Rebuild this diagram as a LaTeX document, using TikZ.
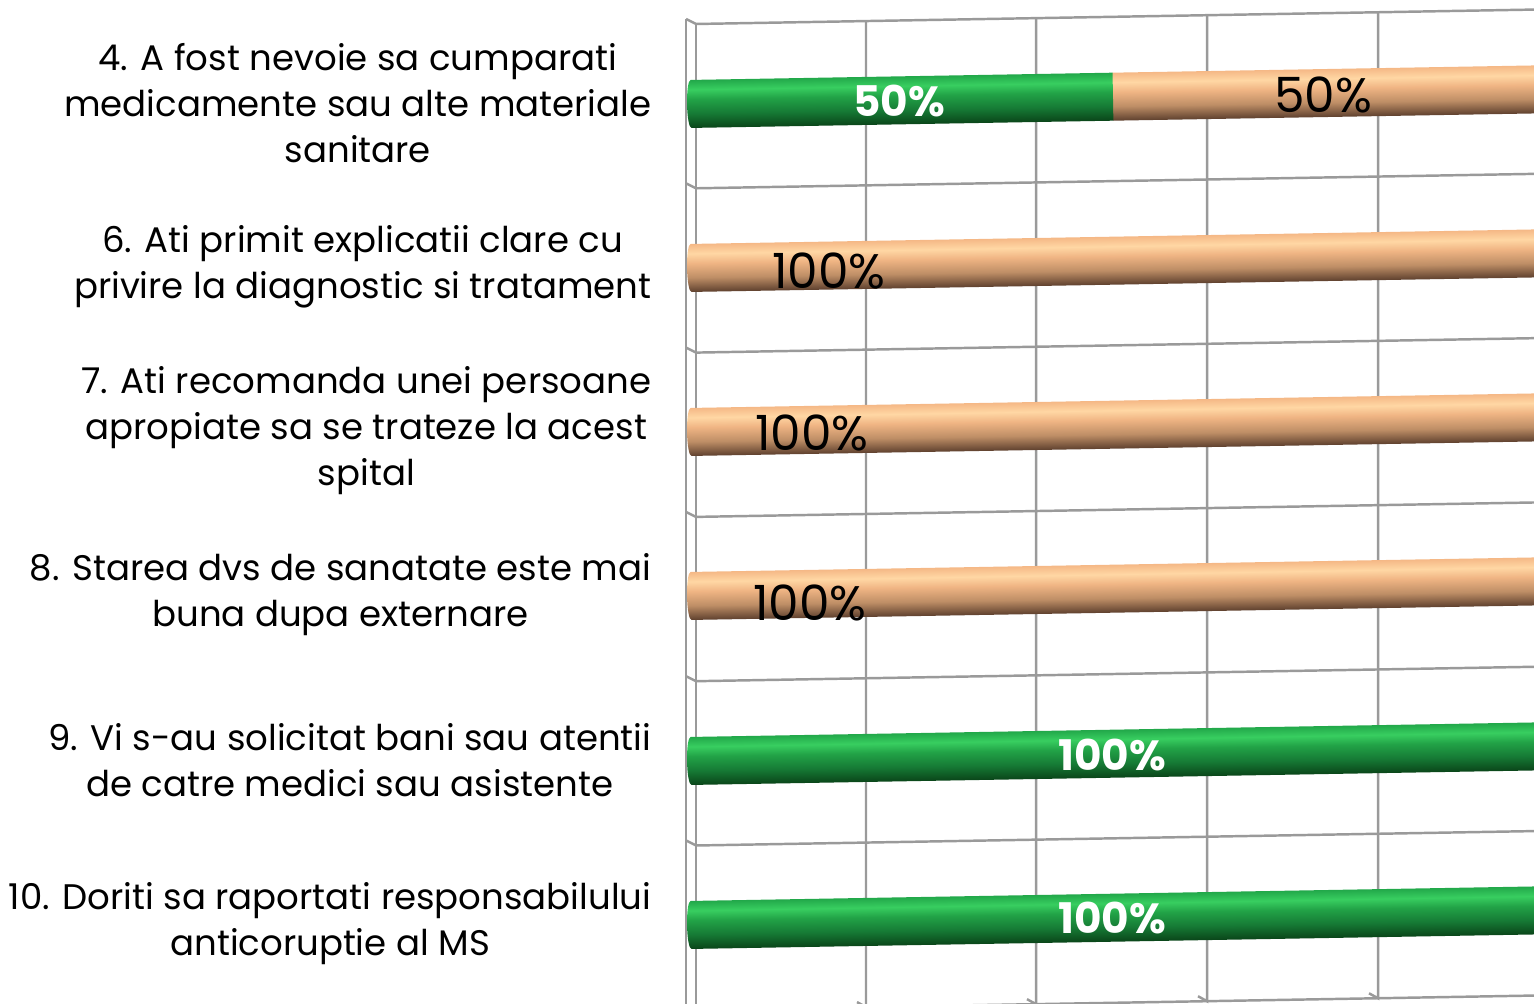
\documentclass[tikz,border=0pt]{standalone}
\usepackage{fontspec}
\setmainfont{Poppins}
\usepackage{xcolor}
\definecolor{gridGray}{HTML}{9A9A9A}
\definecolor{grnT}{HTML}{22A84A}
\definecolor{grnL}{HTML}{38CE60}
\definecolor{grnM}{HTML}{22A347}
\definecolor{grnK}{HTML}{167A35}
\definecolor{grnD}{HTML}{0A4519}
\definecolor{tanT}{HTML}{F5B886}
\definecolor{tanL}{HTML}{FFD7A4}
\definecolor{tanM}{HTML}{F0B584}
\definecolor{tanK}{HTML}{BE8E66}
\definecolor{tanD}{HTML}{5E402E}
\usetikzlibrary{positioning}
\pgfdeclareverticalshading{greenCyl}{100bp}{color(0bp)=(grnD); color(25bp)=(grnD); color(40bp)=(grnK); color(55bp)=(grnM); color(65bp)=(grnL); color(75bp)=(grnT); color(100bp)=(grnT)}
\pgfdeclareverticalshading{tanCyl}{100bp}{color(0bp)=(tanD); color(25bp)=(tanD); color(40bp)=(tanK); color(55bp)=(tanM); color(65bp)=(tanL); color(75bp)=(tanT); color(100bp)=(tanT)}
\tikzset{
  grid line/.style={gridGray, line width=0.7pt},
  question/.style={anchor=east, align=center, inner sep=0pt, font=\fontsize{10.1}{13.1}\selectfont},
  pct/.style={inner sep=0pt, font=\fontsize{13.8}{13.8}\selectfont},
  pct white/.style={inner sep=0pt, text=white, font=\bfseries\fontsize{12}{12}\selectfont},
}
% one cylinder piece: centre y at left end, from x, to x, shading
\newcommand{\cylpiece}[4]{%
  \begin{scope}[transform canvas={rotate around={0.985:(688,#1)}}]
    \shade[shading=#4] (#2,#1-24) -- (#3,#1-24) -- (#3,#1+24) -- (#2,#1+24)
      arc[start angle=90, end angle=270, x radius=4, y radius=24];
  \end{scope}}
\begin{document}
\begin{tikzpicture}[x=0.01cm, y=-0.01cm]
  \useasboundingbox (0,0) rectangle (1534,1004);
  \begin{scope}
    \clip (0,0) rectangle (1534,1004);
    % Left wall
    \draw[grid line] (686,19) -- (686,1010);
    \draw[grid line] (696,24) -- (696,1012);
    % Horizontal grid lines
    \foreach \y in {24,188.3,352.6,516.9,681.2,845.5} {
      \draw[grid line] (686,\y-5) -- (696,\y) -- (1560,\y-14.86);
    }
    % Vertical grid lines with ticks
    \foreach \x in {866,1036,1207,1378} {
      \draw[grid line] (\x,{24-0.0172*(\x-696)}) -- (\x,{1010-0.0172*(\x-696)}) -- ++(-9,-5);
    }
    \draw[grid line] (696,1010) -- (1560,995.1);
    % Bars
    \cylpiece{104}{1113}{1600}{tanCyl}
    \cylpiece{104}{691}{1113}{greenCyl}
    \foreach \yc/\shd in {268/tanCyl, 432/tanCyl, 596/tanCyl, 761/greenCyl, 925/greenCyl} {
      \cylpiece{\yc}{691}{1600}{\shd}
    }
  \end{scope}
  % Questions
  \node[question] (q4) at (652,103) {4. A fost nevoie sa cumparati\\medicamente sau alte materiale\\sanitare};
  \node[question] (q6) at (652,267) {6. Ati primit explicatii clare cu\\privire la diagnostic si tratament};
  \node[question] (q7) at (652,431) {7. Ati recomanda unei persoane\\apropiate sa se trateze la acest\\spital};
  \node[question] (q8) at (652,595) {8. Starea dvs de sanatate este mai\\buna dupa externare};
  \node[question] (q9) at (652,760) {9. Vi s-au solicitat bani sau atentii\\de catre medici sau asistente};
  \node[question] (q10) at (652,924) {10. Doriti sa raportati responsabilului\\anticoruptie al MS};
  % Percentages
  \node[pct white] (p4a) at (899,101) {50\%};
  \node[pct] (p4b) at (1323,95) {50\%};
  \node[pct] (p6) at (829,271) {100\%};
  \node[pct] (p7) at (812,433) {100\%};
  \node[pct] (p8) at (810,603) {100\%};
  \node[pct white] (p9) at (1112,755) {100\%};
  \node[pct white] (p10) at (1112,918) {100\%};
\end{tikzpicture}
\end{document}
